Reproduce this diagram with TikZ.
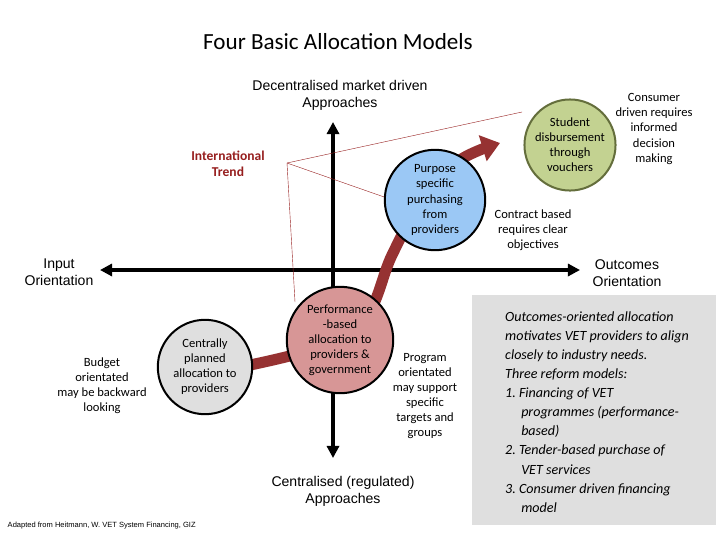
\documentclass[tikz,border=0pt]{standalone}
\usepackage{fontspec}
\setmainfont{Liberation Sans}
\newfontfamily\carlito{Carlito}
\usetikzlibrary{arrows.meta}
\definecolor{trendred}{RGB}{150,30,30}
\definecolor{flowred}{RGB}{150,50,50}
\definecolor{perffill}{RGB}{215,150,150}
\definecolor{purpfill}{RGB}{155,200,245}
\definecolor{studfill}{RGB}{195,210,145}
\definecolor{studline}{RGB}{100,110,60}
\begin{document}
\begin{tikzpicture}[x=0.35mm, y=-0.35mm, thick,
  model/.style = {draw, circle, line width=2pt, minimum size=#1, align=center, inner sep=1pt, font=\carlito\fontsize{12.5}{15}\selectfont},
  note/.style = {align=center, font=\carlito\fontsize{12.5}{15}\selectfont},
  axis/.style = {line width=3pt, -{Triangle[length=12pt,width=12pt]}},
  axlabel/.style = {align=center, font=\fontsize{14}{17}\selectfont}]
        \useasboundingbox (0,0) rectangle (720,540);
        \fill[gray!25] (472,295) rectangle (716,525);

        \node[font=\carlito\fontsize{23}{27}\selectfont] (title) at (338,42) {Four Basic Allocation Models};

        % axes
        \coordinate (L) at (100,270);
        \coordinate (R) at (580,270);
        \coordinate (T) at (333,122);
        \coordinate (B) at (333,458);
        \draw[axis] (333,270) -- (R);
        \draw[axis] (333,270) -- (L);
        \draw[axis] (333,270) -- (T);
        \draw[axis] (333,270) -- (B);

        % thin trend lines
        \coordinate (tr) at (287,163);
        \draw[trendred, thin] (295,302) -- (tr) -- (522,112);
        \draw[trendred, thin] (tr) -- (387,198);

        % flow
        \draw[flowred, line width=11pt, -{Triangle[length=18pt,width=26pt]}]
            plot[smooth, tension=0.6] coordinates {(215,372) (310,350) (365,318) (392,255) (425,195) (460,160) (500,143)};

        \node[model=94, fill=gray!25] (cen) at (205,367) {Centrally\\planned\\allocation to\\providers};
        \node[model=106, fill=perffill] (perf) at (340,340) {Performance\\-based\\allocation to\\providers \&\\government};
        \node[model=100, fill=purpfill] (purp) at (435,200) {Purpose\\specific\\purchasing\\from\\providers};
        \node[model=90, fill=studfill, draw=studline] (stud) at (570,145) {Student\\disbursement\\through\\vouchers};

        \node[axlabel] (top) at (340,95) {Decentralised market driven\\Approaches};
        \node[axlabel] (bot) at (343,491) {Centralised (regulated)\\Approaches};
        \node[axlabel] (in) at (59,272) {Input\\Orientation};
        \node[axlabel] (out) at (627,273) {Outcomes\\Orientation};
        \node[align=center, text=trendred, font=\carlito\bfseries\fontsize{13.5}{16}\selectfont] (intl) at (228,164) {International\\Trend};

        \node[note] (budget) at (102,386) {Budget\\orientated\\may be backward\\looking};
        \node[note] (prog) at (425,396) {Program\\orientated\\may support\\specific\\targets and\\groups};
        \node[note] (contract) at (533,230) {Contract based\\requires clear\\objectives};
        \node[note] (consumer) at (654,129) {Consumer\\driven requires\\informed\\decision\\making};

        \node[align=left, font=\carlito\itshape\fontsize{14}{19}\selectfont] (box) at (597,412)
          {Outcomes-oriented allocation\\motivates VET providers to align\\closely to industry needs.\\
           Three reform models:\\
           1.\ Financing of VET\\\hspace*{16pt}programmes (performance-\\\hspace*{16pt}based)\\
           2.\ Tender-based purchase of\\\hspace*{16pt}VET services\\
           3.\ Consumer driven financing\\\hspace*{16pt}model};

        \node[anchor=south west, font=\fontsize{7.5}{8}\selectfont] (src) at (4,533) {Adapted from Heitmann, W. VET System Financing, GIZ};
\end{tikzpicture}
\end{document}
